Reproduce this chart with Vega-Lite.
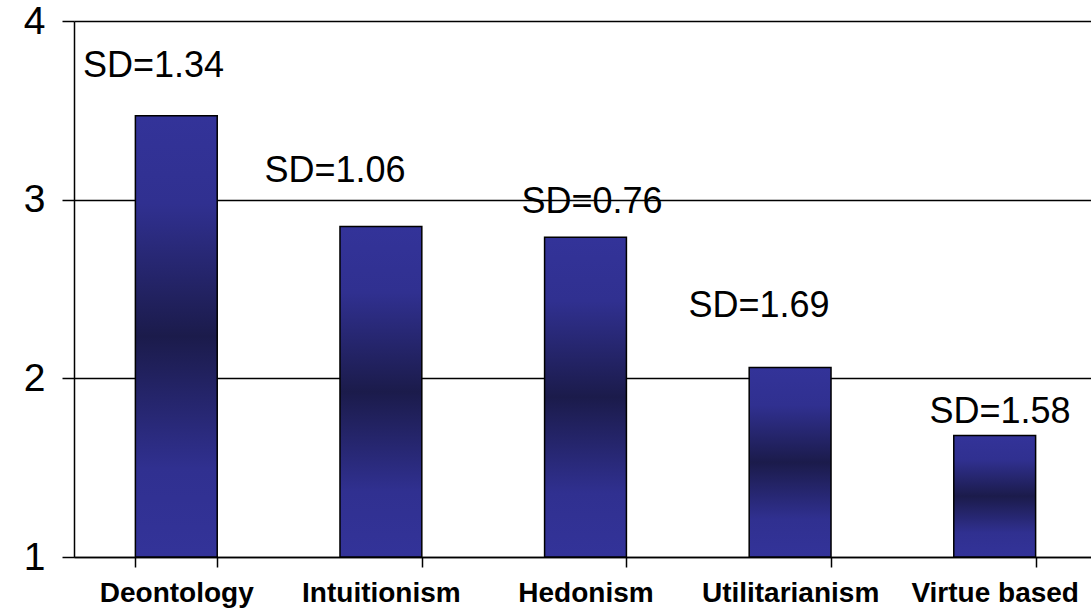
{
  "$schema": "https://vega.github.io/schema/vega-lite/v6.json",
  "autosize": {"type": "none"},
  "width": 1023,
  "height": 536,
  "padding": {"left": 74, "top": 21, "right": -6, "bottom": 52},
  "background": "white",
  "config": {
    "font": "Liberation Sans",
    "view": {"stroke": null},
    "axis": {"domainColor": "black", "tickColor": "black", "labelColor": "black"}
  },
  "data": {
    "values": [
      {"approach": "Deontology", "mean": 3.47, "sd": "SD=1.34", "label_x": 0.389, "label_y": 3.686},
      {"approach": "Intuitionism", "mean": 2.85, "sd": "SD=1.06", "label_x": 1.276, "label_y": 3.099},
      {"approach": "Hedonism", "mean": 2.79, "sd": "SD=0.76", "label_x": 2.532, "label_y": 2.925},
      {"approach": "Utilitarianism", "mean": 2.06, "sd": "SD=1.69", "label_x": 3.348, "label_y": 2.343},
      {"approach": "Virtue based", "mean": 1.68, "sd": "SD=1.58", "label_x": 4.526, "label_y": 1.75}
    ]
  },
  "layer": [
    {
      "mark": {
        "type": "bar",
        "stroke": "black",
        "strokeWidth": 1.5,
        "fill": {
          "gradient": "linear",
          "x1": 0, "y1": 0, "x2": 0, "y2": 1,
          "stops": [
            {"offset": 0, "color": "#333399"},
            {"offset": 0.2, "color": "#303090"},
            {"offset": 0.5, "color": "#1b1b4b"},
            {"offset": 0.8, "color": "#303090"},
            {"offset": 1, "color": "#333399"}
          ]
        }
      },
      "encoding": {
        "x": {
          "field": "approach",
          "type": "nominal",
          "sort": null,
          "scale": {"paddingInner": 0.6, "paddingOuter": 0.3},
          "axis": {
            "title": null,
            "labelAngle": 0,
            "labelFont": "Liberation Sans",
            "labelFontSize": 28,
            "labelFontWeight": "bold",
            "labelBaseline": "alphabetic",
            "labelPadding": 34,
            "tickBand": "extent",
            "tickSize": 10,
            "tickWidth": 1.5,
            "domainWidth": 1.5,
            "grid": false
          }
        },
        "y": {
          "field": "mean",
          "type": "quantitative",
          "scale": {"domain": [1, 4], "nice": false, "zero": false},
          "axis": {
            "title": null,
            "values": [1, 2, 3, 4],
            "format": "d",
            "labelFontSize": 39,
            "labelPadding": 17,
            "labelBaseline": "middle",
            "tickSize": 12,
            "tickWidth": 1.5,
            "domainWidth": 1.5,
            "grid": true,
            "gridColor": "black",
            "gridWidth": 1.3
          }
        },
        "y2": {"datum": 1}
      }
    },
    {
      "mark": {"type": "text", "fontSize": 36, "color": "black", "align": "center", "baseline": "alphabetic"},
      "encoding": {
        "x": {"field": "label_x", "type": "quantitative", "scale": {"domain": [0, 5], "nice": false, "zero": false}, "axis": null},
        "y": {"field": "label_y", "type": "quantitative"},
        "text": {"field": "sd"}
      }
    }
  ],
  "resolve": {"scale": {"x": "independent"}}
}
